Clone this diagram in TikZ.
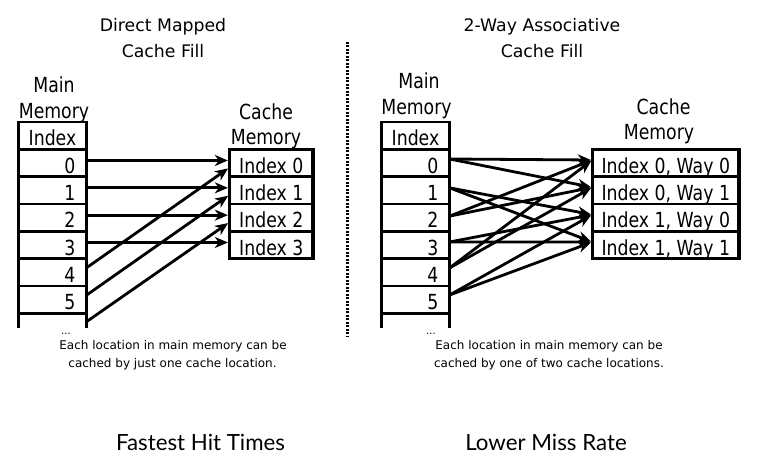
\documentclass[tikz,border=0pt]{standalone}
\usepackage{fontspec}
\usepackage{graphicx}
\setmainfont{DejaVu Sans}
\newfontfamily\bottomfont{Lato}
\usetikzlibrary{arrows.meta}
\newcommand\vst[1]{\scalebox{1}[1.2]{#1}}
\begin{document}
\begin{tikzpicture}[x=1pt,y=-1pt,
  titletext/.style={font=\fontsize{17.3}{20}\selectfont, inner sep=0pt, anchor=base},
  lab/.style={font=\fontsize{17.3}{20}\selectfont, inner sep=0pt, anchor=base},
  captext/.style={font=\fontsize{12}{14}\selectfont, inner sep=0pt, anchor=base},
  bot/.style={font=\bottomfont\fontsize{22.3}{25}\selectfont, inner sep=0pt, anchor=base},
  cellbase/.style={draw, line width=2.6pt, outer sep=0pt, minimum height=27.33pt,
    inner ysep=0pt, text height=20.6pt, text depth=0pt, font=\fontsize{17.3}{20}\selectfont},
  numcell/.style={cellbase, minimum width=68pt, inner xsep=11pt, text width=46pt, align=right},
  headcell/.style={cellbase, minimum width=68pt, inner xsep=0pt, align=center},
  lcache/.style={cellbase, minimum width=83.7pt, inner xsep=0pt, align=center},
  rcache/.style={cellbase, minimum width=146.7pt, inner xsep=0pt, align=center},
  frame/.style={draw, line width=3.5pt},
  conn/.style={line width=2.8pt, -{Stealth[length=13pt,width=11pt,inset=4pt]}, shorten >=1.6pt},
]
\useasboundingbox (0,0) rectangle (758,454);
\fill[white] (0,0) rectangle (758,454);

% titles
\node[titletext] (t1a) at (163,31.7) {Direct Mapped};
\node[titletext] (t1b) at (163,58) {Cache Fill};
\node[titletext] (t2a) at (542,31.7) {2-Way Associative};
\node[titletext] (t2b) at (542,58) {Cache Fill};

% separator
\draw[line width=3pt, dash pattern=on 2pt off 1.5pt] (347.5,42) -- (347.5,337);

% ===== left: direct mapped =====
\node[lab] (lmm1) at (54,93) {\vst{Main}};
\node[lab] (lmm2) at (54,119) {\vst{Memory}};
\node[headcell] (lI) at (52.5,135.67) {\vst{Index}};
\foreach \i in {0,...,5} {
  \node[numcell] (l\i) at (52.5,{163+27.33*\i}) {\vst{\i}};
}
\coordinate (lbl) at (18.5,328);
\coordinate (lbr) at (86.5,328);
\draw[line width=2.6pt] (l5.south west) -- (lbl);
\draw[line width=2.6pt] (l5.south east) -- (lbr);
\node[font=\fontsize{10}{10}\selectfont, inner sep=0pt, anchor=base] (ldots) at (66,334.5) {...};

\node[lab] (lcm1) at (266,120) {\vst{Cache}};
\node[lab] (lcm2) at (266,145) {\vst{Memory}};
\foreach \i in {0,...,3} {
  \node[lcache] (lc\i) at (271.3,{163+27.33*\i}) {\vst{Index \i}};
}
\coordinate (lstart6) at (86.5,321.7);

\foreach \i in {0,...,3} {
  \draw[conn] ([yshift=2.5pt]l\i.east) -- ([yshift=2.5pt]lc\i.west);
}
\draw[conn] ([yshift=4.5pt]l4.east) -- ([yshift=-4.5pt]lc0.west);
\draw[conn] ([yshift=4.5pt]l5.east) -- ([yshift=-4.5pt]lc1.west);
\draw[conn] (lstart6) -- ([yshift=-4.5pt]lc2.west);

\draw[frame] (lI.north west) -- (lbl);
\draw[frame] (lI.north east) -- (lbr);
\draw[frame] (lc0.north west) rectangle (lc3.south east);

\node[captext] (lcapa) at (173,350) {Each location in main memory can be};
\node[captext] (lcapb) at (172.5,368) {cached by just one cache location.};

% ===== right: 2-way =====
\node[lab] (rmm1) at (419,89) {\vst{Main}};
\node[lab] (rmm2) at (416.5,115) {\vst{Memory}};
\node[headcell] (rI) at (415.5,135.67) {\vst{Index}};
\foreach \i in {0,...,5} {
  \node[numcell] (r\i) at (415.5,{163+27.33*\i}) {\vst{\i}};
}
\coordinate (rbl) at (381.5,328);
\coordinate (rbr) at (449.5,328);
\draw[line width=2.6pt] (r5.south west) -- (rbl);
\draw[line width=2.6pt] (r5.south east) -- (rbr);
\node[font=\fontsize{10}{10}\selectfont, inner sep=0pt, anchor=base] (rdots) at (431,334.5) {...};

\node[lab] (rcm1) at (663.5,115) {\vst{Cache}};
\node[lab] (rcm2) at (659,140) {\vst{Memory}};
\node[rcache] (rc0) at (665.8,163) {\vst{Index 0, Way 0}};
\node[rcache] (rc1) at (665.8,190.33) {\vst{Index 0, Way 1}};
\node[rcache] (rc2) at (665.8,217.67) {\vst{Index 1, Way 0}};
\node[rcache] (rc3) at (665.8,245) {\vst{Index 1, Way 1}};

\draw[conn] ([yshift=4pt]r0.east) -- ([yshift=3pt]rc0.west);
\draw[conn] ([yshift=4pt]r0.east) -- ([yshift=3pt]rc1.west);
\draw[conn] ([yshift=2.5pt]r1.east) -- ([yshift=3pt]rc2.west);
\draw[conn] ([yshift=2.5pt]r1.east) -- ([yshift=3pt]rc3.west);
\draw[conn] ([yshift=1.5pt]r2.east) -- ([yshift=3pt]rc0.west);
\draw[conn] ([yshift=1.5pt]r2.east) -- ([yshift=3pt]rc1.west);
\draw[conn] ([yshift=3pt]r3.east) -- ([yshift=3pt]rc2.west);
\draw[conn] ([yshift=3pt]r3.east) -- ([yshift=3pt]rc3.west);
\draw[conn] ([yshift=4.3pt]r4.east) -- ([yshift=3pt]rc0.west);
\draw[conn] ([yshift=4.3pt]r4.east) -- ([yshift=3pt]rc1.west);
\draw[conn] ([yshift=4.6pt]r5.east) -- ([yshift=3pt]rc2.west);
\draw[conn] ([yshift=4.6pt]r5.east) -- ([yshift=3pt]rc3.west);

\draw[frame] (rI.north west) -- (rbl);
\draw[frame] (rI.north east) -- (rbr);
\draw[frame] (rc0.north west) rectangle (rc3.south east);

\node[captext] (rcapa) at (549,350) {Each location in main memory can be};
\node[captext] (rcapb) at (549,368) {cached by one of two cache locations.};

% bottom
\node[bot] (b1) at (200.5,450) {Fastest Hit Times};
\node[bot] (b2) at (546,450) {Lower Miss Rate};
\end{tikzpicture}
\end{document}
